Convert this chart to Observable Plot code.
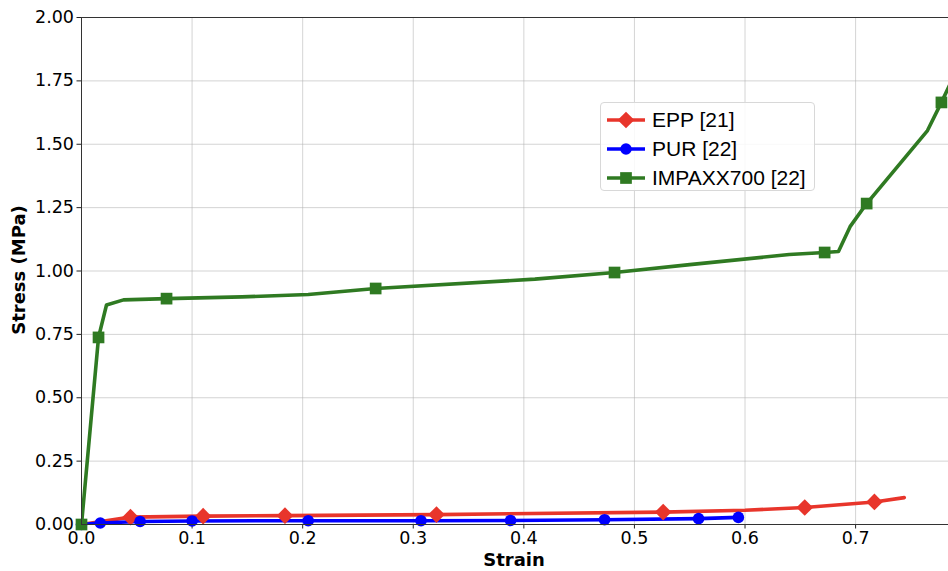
<!DOCTYPE html>
<html>
<head>
<meta charset="utf-8">
<script src="https://cdn.jsdelivr.net/npm/d3@7"></script>
<script src="https://cdn.jsdelivr.net/npm/@observablehq/plot@0.6"></script>
<style>
  html, body { margin: 0; padding: 0; background: #fff; }
  #wrap { position: relative; width: 948px; height: 571px; overflow: hidden; }
  #legend { position: absolute; left: 600px; top: 102px; width: 213px; height: 87px;
    border: 1px solid #d8d8d8; border-radius: 4px; background: rgba(255,255,255,0.85);
    font-family: "Liberation Sans", Arial, sans-serif; font-size: 21px; color: #000; }
  .row { position: absolute; left: 6px; height: 29px; display: flex; align-items: center; }
  .row span { margin-left: 7px; white-space: nowrap; }
</style>
</head>
<body>
<div id="wrap"></div>
<script>
// ---- data ----
const series = ["EPP [21]", "PUR [22]", "IMPAXX700 [22]"];
const colors = ["#e8352b", "#0000ff", "#2f7a22"];
const symbols = ["diamond2", "circle", "square"];

const eppStrain = [0, 0.0443, 0.110, 0.184, 0.321, 0.526, 0.600, 0.654, 0.717, 0.744];
const eppStress = [0, 0.029, 0.033, 0.035, 0.039, 0.049, 0.056, 0.067, 0.089, 0.106];
const eppMark   = [0, 1, 1, 1, 1, 1, 0, 1, 1, 0];

const purStrain = [0, 0.017, 0.053, 0.100, 0.205, 0.307, 0.388, 0.473, 0.558, 0.594];
const purStress = [0, 0.006, 0.012, 0.014, 0.015, 0.015, 0.016, 0.019, 0.023, 0.028];
const purMark   = [1, 1, 1, 1, 1, 1, 1, 1, 1, 1];

const impStrain = [0, 0.0154, 0.0226, 0.038, 0.0769, 0.145, 0.205, 0.266, 0.410, 0.482, 0.550, 0.640, 0.672, 0.6845, 0.695, 0.710, 0.765, 0.7776, 0.790];
const impStress = [0, 0.738, 0.866, 0.886, 0.891, 0.898, 0.907, 0.931, 0.968, 0.994, 1.025, 1.065, 1.073, 1.077, 1.175, 1.266, 1.554, 1.665, 1.78];
const impMark   = [1, 1, 0, 0, 1, 0, 0, 1, 0, 1, 0, 0, 1, 0, 0, 1, 0, 1, 0];

const xTicks = [0, 0.1, 0.2, 0.3, 0.4, 0.5, 0.6, 0.7];
const yTicks = [0, 0.25, 0.5, 0.75, 1.0, 1.25, 1.5, 1.75, 2.0];

// ---- build table ----
function rows(name, xs, ys, ms) {
  return xs.map((x, i) => ({series: name, strain: x, stress: ys[i], mark: ms[i] === 1}));
}
const data = [
  ...rows(series[0], eppStrain, eppStress, eppMark),
  ...rows(series[1], purStrain, purStress, purMark),
  ...rows(series[2], impStrain, impStress, impMark)
];
const colorOf = Object.fromEntries(series.map((s, i) => [s, colors[i]]));
const symOf = Object.fromEntries(series.map((s, i) => [s, symbols[i]]));

const tickFont = {fontFamily: "DejaVu Sans", fontSize: "17.5px", color: "#000"};

const marks = [
  Plot.gridX(xTicks, {stroke: "#b0b0b0", strokeOpacity: 0.55, strokeWidth: 1}),
  Plot.gridY(yTicks, {stroke: "#b0b0b0", strokeOpacity: 0.55, strokeWidth: 1}),
  Plot.axisX(xTicks, {tickSize: 4.5, tickPadding: 3, tickFormat: d3.format(".1f"), label: null, stroke: "#222"}),
  Plot.axisY(yTicks, {tickSize: 4.5, tickPadding: 3, tickFormat: d3.format(".2f"), label: null, stroke: "#222"})
];
for (const s of series) {
  const d = data.filter(r => r.series === s);
  marks.push(Plot.line(d, {x: "strain", y: "stress", stroke: colorOf[s], strokeWidth: 3.6, clip: true}));
}
for (const s of series) {
  const d = data.filter(r => r.series === s && r.mark);
  const r = s === series[0] ? 7.5 : (s === series[1] ? 5.8 : 6.6);
  marks.push(Plot.dot(d, {x: "strain", y: "stress", fill: colorOf[s], stroke: "none", symbol: symOf[s], r}));
}
marks.push(Plot.ruleX([0], {stroke: "#333", strokeWidth: 1}));
marks.push(Plot.ruleY([0], {stroke: "#333", strokeWidth: 1}));
marks.push(Plot.ruleY([2], {stroke: "#333", strokeWidth: 1}));

const chart = Plot.plot({
  width: 948,
  height: 571,
  marginLeft: 81,
  marginRight: 0,
  marginTop: 17,
  marginBottom: 47,
  style: {...tickFont, background: "#fff", overflow: "visible"},
  x: {domain: [0, 0.784], label: null},
  y: {domain: [0, 2], label: null},
  marks
});

// axis titles as real text
const svg = d3.select(chart);
svg.append("text").text("Strain")
  .attr("x", 514).attr("y", 566)
  .attr("text-anchor", "middle")
  .attr("font-family", "DejaVu Sans").attr("font-weight", "bold").attr("font-size", "18px");
svg.append("text").text("Stress (MPa)")
  .attr("transform", "translate(25,270) rotate(-90)")
  .attr("text-anchor", "middle")
  .attr("font-family", "DejaVu Sans").attr("font-weight", "bold").attr("font-size", "18px");

const wrap = document.getElementById("wrap");
wrap.appendChild(chart);

// legend
const legend = document.createElement("div");
legend.id = "legend";
series.forEach((s, i) => {
  const row = document.createElement("div");
  row.className = "row";
  row.style.top = (2 + i * 29) + "px";
  const sw = d3.create("svg").attr("width", 38).attr("height", 20);
  sw.append("line").attr("x1", 0).attr("x2", 38).attr("y1", 10).attr("y2", 10)
    .attr("stroke", colors[i]).attr("stroke-width", 3.6);
  const sym = {diamond2: d3.symbolDiamond2, circle: d3.symbolCircle, square: d3.symbolSquare}[symbols[i]];
  const rr = i === 0 ? 7.5 : (i === 1 ? 5.8 : 6.6);
  sw.append("path").attr("d", d3.symbol(sym, Math.PI * rr * rr)()).attr("transform", "translate(19,10)")
    .attr("fill", colors[i]);
  row.appendChild(sw.node());
  const t = document.createElement("span");
  t.textContent = s;
  row.appendChild(t);
  legend.appendChild(row);
});
wrap.appendChild(legend);
</script>
</body>
</html>
